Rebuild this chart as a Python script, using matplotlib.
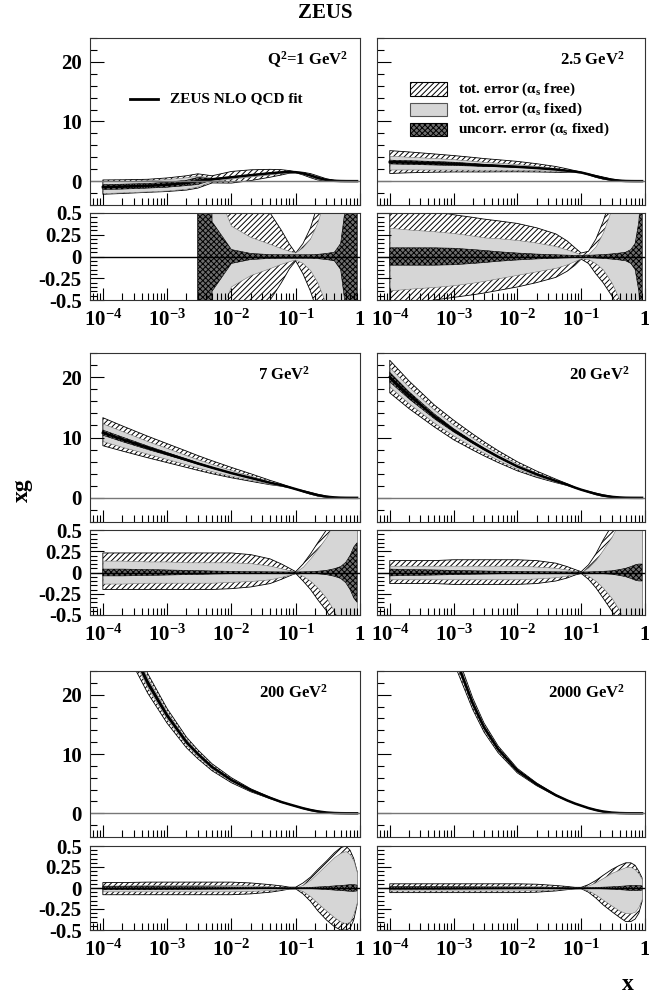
import numpy as np
import matplotlib
matplotlib.use("Agg")
import matplotlib.pyplot as plt
from matplotlib.ticker import FixedLocator, FixedFormatter, MultipleLocator, LogLocator, NullFormatter
from matplotlib.patches import Rectangle
from matplotlib.lines import Line2D

plt.rcParams['font.family'] = 'Liberation Serif'
plt.rcParams['font.weight'] = 'bold'
plt.rcParams['mathtext.fontset'] = 'custom'
plt.rcParams['mathtext.rm'] = 'Liberation Serif:bold'
plt.rcParams['mathtext.it'] = 'Liberation Serif:bold:italic'
plt.rcParams['mathtext.bf'] = 'Liberation Serif:bold'
plt.rcParams['mathtext.default'] = 'rm'
plt.rcParams['hatch.linewidth'] = 0.7

# ---------------- data ----------------
X_NODES = [1e-4, 2e-4, 5e-4, 1e-3, 2e-3, 3e-3, 5e-3, 1e-2, 2e-2, 4e-2, 6e-2, 8e-2,
           0.1, 0.13, 0.17, 0.22, 0.3, 0.4, 0.5, 0.6, 0.7, 0.8, 0.9]

PANEL_LABELS = ["Q$^2$=1 GeV$^2$", "2.5 GeV$^2$", "7 GeV$^2$", "20 GeV$^2$",
                "200 GeV$^2$", "2000 GeV$^2$"]

# Q2 = 1
XG_1 = [-1.0, -0.92, -0.78, -0.6, -0.3, 0.03, 0.3, 0.65, 1.0, 1.32, 1.48, 1.55,
        1.5, 1.3, 0.95, 0.55, 0.2, 0.06, 0.02, 0.006, 0.002, 0.0005, 0.0001]
UNC_1 = [0.4, 0.45, 0.5, 0.7, 1.5, 20, 0.4, 0.08, 0.035, 0.022, 0.02, 0.02,
         0.02, 0.02, 0.02, 0.025, 0.035, 0.05, 0.15, 0.6, 1.5, 3, 5]
UPFIX_1 = [1.0, 1.05, 1.2, 1.6, 3.2, 30, 0.9, 0.35, 0.22, 0.14, 0.09, 0.06,
           0.04, 0.1, 0.2, 0.38, 0.7, 1.2, 2, 3, 4, 5, 6]
UPFREE_1 = [1.2, 1.25, 1.4, 1.9, 4.0, 40, 2.0, 1.5, 0.9, 0.5, 0.3, 0.14,
            0.04, 0.15, 0.33, 0.6, 1.0, 1.5, 2.5, 3.5, 4.5, 5.5, 6.5]
LOFIX_1 = [1.0, 1.05, 1.2, 1.6, 3.2, 30, 0.9, 0.35, 0.22, 0.14, 0.09, 0.06,
           0.04, 0.08, 0.16, 0.3, 0.55, 1.0, 2, 3, 4, 5, 6]
LOFREE_1 = [1.2, 1.25, 1.4, 1.9, 4.0, 40, 2.0, 1.5, 0.9, 0.5, 0.3, 0.14,
            0.05, 0.2, 0.4, 0.65, 1.0, 1.5, 2.5, 3.5, 4.5, 5.5, 6.5]

# Q2 = 2.5
XG_2 = [3.2, 3.12, 3.0, 2.9, 2.75, 2.65, 2.55, 2.4, 2.2, 1.95, 1.75, 1.6,
        1.45, 1.15, 0.8, 0.5, 0.22, 0.08, 0.025, 0.008, 0.002, 0.0005, 0.0001]
UNC_2 = [0.1, 0.1, 0.1, 0.095, 0.08, 0.07, 0.055, 0.04, 0.028, 0.02, 0.016, 0.013,
         0.012, 0.014, 0.018, 0.022, 0.03, 0.04, 0.05, 0.08, 0.15, 0.4, 1.0]
UPFIX_2 = [0.33, 0.31, 0.29, 0.27, 0.24, 0.22, 0.21, 0.19, 0.16, 0.12, 0.08, 0.05,
           0.02, 0.03, 0.12, 0.28, 0.55, 0.9, 1.2, 1.5, 2, 3, 4]
UPFREE_2 = [0.6, 0.57, 0.52, 0.48, 0.45, 0.43, 0.41, 0.38, 0.33, 0.26, 0.18, 0.1,
            0.04, 0.06, 0.2, 0.4, 0.7, 1.0, 1.3, 1.6, 2.1, 3.1, 4.1]
LOFIX_2 = [0.39, 0.37, 0.35, 0.33, 0.3, 0.28, 0.25, 0.21, 0.17, 0.13, 0.09, 0.05,
           0.02, 0.03, 0.08, 0.15, 0.3, 0.5, 0.7, 1.0, 1.5, 2, 3]
LOFREE_2 = [0.6, 0.55, 0.5, 0.47, 0.44, 0.42, 0.39, 0.35, 0.3, 0.24, 0.17, 0.1,
            0.03, 0.08, 0.2, 0.3, 0.45, 0.6, 0.8, 1.1, 1.6, 2.1, 3.1]

# Q2 = 7
XG_3 = [10.8, 9.7, 8.3, 7.3, 6.3, 5.7, 5.0, 4.1, 3.3, 2.5, 2.1, 1.75,
        1.45, 1.1, 0.75, 0.45, 0.2, 0.07, 0.025, 0.008, 0.002, 0.0005, 0.0001]
UNC_3 = [0.04, 0.04, 0.035, 0.03, 0.025, 0.022, 0.018, 0.014, 0.01, 0.008, 0.007, 0.006,
         0.006, 0.008, 0.01, 0.015, 0.025, 0.045, 0.07, 0.12, 0.2, 0.3, 0.35]
UPFIX_3 = [0.14, 0.14, 0.13, 0.13, 0.12, 0.12, 0.12, 0.12, 0.11, 0.08, 0.05, 0.025,
           0.008, 0.07, 0.17, 0.28, 0.42, 0.6, 0.8, 1.0, 1.3, 1.6, 2.0]
UPFREE_3 = [0.23, 0.23, 0.23, 0.23, 0.23, 0.23, 0.23, 0.23, 0.21, 0.16, 0.1, 0.05,
            0.01, 0.1, 0.22, 0.35, 0.5, 0.7, 0.9, 1.1, 1.4, 1.7, 2.1]
LOFIX_3 = [0.13, 0.13, 0.12, 0.12, 0.12, 0.12, 0.12, 0.11, 0.1, 0.08, 0.05, 0.025,
           0.008, 0.04, 0.1, 0.18, 0.3, 0.46, 0.6, 0.8, 1.0, 1.3, 1.6]
LOFREE_3 = [0.2, 0.2, 0.2, 0.2, 0.2, 0.2, 0.2, 0.19, 0.17, 0.13, 0.08, 0.04,
            0.01, 0.1, 0.2, 0.32, 0.45, 0.6, 0.8, 1.0, 1.2, 1.5, 1.8]

# Q2 = 20
XG_4 = [20.0, 17.0, 13.5, 11.2, 9.2, 8.1, 6.8, 5.2, 3.9, 2.8, 2.2, 1.7,
        1.35, 1.0, 0.65, 0.38, 0.17, 0.06, 0.02, 0.007, 0.002, 0.0005, 0.0001]
UNC_4 = [0.04, 0.035, 0.03, 0.025, 0.02, 0.018, 0.015, 0.012, 0.01, 0.008, 0.007, 0.006,
         0.006, 0.007, 0.01, 0.014, 0.02, 0.035, 0.05, 0.07, 0.09, 0.1, 0.1]
UPFIX_4 = [0.08, 0.08, 0.08, 0.08, 0.08, 0.08, 0.08, 0.08, 0.07, 0.055, 0.035, 0.015,
           0.005, 0.06, 0.15, 0.27, 0.42, 0.6, 0.8, 1.0, 1.2, 1.4, 1.6]
UPFREE_4 = [0.14, 0.14, 0.14, 0.15, 0.15, 0.15, 0.15, 0.15, 0.14, 0.11, 0.07, 0.035,
            0.01, 0.09, 0.22, 0.38, 0.55, 0.75, 0.95, 1.1, 1.3, 1.5, 1.7]
LOFIX_4 = [0.08, 0.08, 0.08, 0.08, 0.08, 0.08, 0.08, 0.08, 0.07, 0.055, 0.035, 0.015,
           0.005, 0.04, 0.1, 0.18, 0.3, 0.45, 0.6, 0.75, 0.9, 1.0, 1.1]
LOFREE_4 = [0.13, 0.13, 0.13, 0.14, 0.14, 0.14, 0.14, 0.14, 0.13, 0.1, 0.065, 0.03,
            0.01, 0.08, 0.18, 0.3, 0.45, 0.6, 0.75, 0.9, 1.0, 1.1, 1.2]

# Q2 = 200
XG_5 = [38.0, 31.0, 22.0, 16.5, 12.0, 10.0, 7.8, 5.6, 3.9, 2.6, 1.9, 1.5,
        1.2, 0.85, 0.55, 0.32, 0.13, 0.045, 0.015, 0.005, 0.0015, 0.0004, 0.00006]
UNC_5 = [0.02, 0.02, 0.02, 0.018, 0.016, 0.015, 0.014, 0.012, 0.01, 0.008, 0.006, 0.005,
         0.005, 0.006, 0.008, 0.012, 0.018, 0.025, 0.03, 0.035, 0.04, 0.04, 0.035]
UPFIX_5 = [0.03, 0.03, 0.035, 0.035, 0.035, 0.035, 0.035, 0.035, 0.03, 0.02, 0.012, 0.006,
           0.006, 0.04, 0.1, 0.18, 0.28, 0.37, 0.42, 0.44, 0.4, 0.32, 0.18]
UPFREE_5 = [0.065, 0.065, 0.07, 0.07, 0.07, 0.07, 0.07, 0.07, 0.06, 0.04, 0.025, 0.01,
            0.01, 0.06, 0.13, 0.22, 0.32, 0.42, 0.48, 0.5, 0.45, 0.35, 0.2]
LOFIX_5 = [0.04, 0.04, 0.04, 0.04, 0.04, 0.04, 0.04, 0.04, 0.035, 0.025, 0.015, 0.007,
           0.006, 0.04, 0.1, 0.18, 0.27, 0.35, 0.4, 0.42, 0.4, 0.3, 0.16]
LOFREE_5 = [0.08, 0.08, 0.08, 0.08, 0.08, 0.08, 0.08, 0.08, 0.07, 0.05, 0.03, 0.012,
            0.01, 0.07, 0.16, 0.27, 0.38, 0.46, 0.5, 0.5, 0.48, 0.38, 0.2]

# Q2 = 2000
XG_6 = [70.0, 55.0, 37.0, 27.0, 18.5, 14.5, 10.8, 7.2, 4.9, 3.05, 2.18, 1.64,
        1.29, 0.88, 0.55, 0.3, 0.12, 0.038, 0.011, 0.003, 0.0008, 0.0002, 0.00003]
UNC_6 = [0.015, 0.015, 0.015, 0.014, 0.013, 0.012, 0.011, 0.01, 0.008, 0.006, 0.005, 0.004,
         0.004, 0.005, 0.007, 0.01, 0.014, 0.02, 0.025, 0.03, 0.03, 0.03, 0.025]
UPFIX_6 = [0.025, 0.025, 0.025, 0.025, 0.025, 0.025, 0.025, 0.025, 0.022, 0.015, 0.009, 0.005,
           0.005, 0.03, 0.07, 0.12, 0.18, 0.22, 0.25, 0.25, 0.22, 0.17, 0.1]
UPFREE_6 = [0.05, 0.05, 0.05, 0.05, 0.05, 0.05, 0.05, 0.05, 0.045, 0.03, 0.018, 0.008,
            0.008, 0.04, 0.09, 0.15, 0.22, 0.27, 0.3, 0.3, 0.27, 0.2, 0.12]
LOFIX_6 = [0.03, 0.03, 0.03, 0.03, 0.03, 0.03, 0.03, 0.03, 0.026, 0.018, 0.01, 0.005,
           0.005, 0.03, 0.08, 0.14, 0.21, 0.27, 0.3, 0.3, 0.28, 0.22, 0.12]
LOFREE_6 = [0.055, 0.055, 0.055, 0.055, 0.055, 0.055, 0.055, 0.055, 0.05, 0.035, 0.02, 0.01,
            0.008, 0.05, 0.12, 0.2, 0.28, 0.35, 0.4, 0.4, 0.37, 0.3, 0.16]

PANELS = [
    (XG_1, UNC_1, UPFIX_1, UPFREE_1, LOFIX_1, LOFREE_1),
    (XG_2, UNC_2, UPFIX_2, UPFREE_2, LOFIX_2, LOFREE_2),
    (XG_3, UNC_3, UPFIX_3, UPFREE_3, LOFIX_3, LOFREE_3),
    (XG_4, UNC_4, UPFIX_4, UPFREE_4, LOFIX_4, LOFREE_4),
    (XG_5, UNC_5, UPFIX_5, UPFREE_5, LOFIX_5, LOFREE_5),
    (XG_6, UNC_6, UPFIX_6, UPFREE_6, LOFIX_6, LOFREE_6),
]

X_TICKS = [1e-4, 1e-3, 1e-2, 1e-1, 1]
X_TICKLABELS = ["$10^{-4}$", "$10^{-3}$", "$10^{-2}$", "$10^{-1}$", "1"]
MAIN_YTICKS = [0, 10, 20]
MAIN_YTICKLABELS = ["0", "10", "20"]
RATIO_YTICKS = [-0.5, -0.25, 0, 0.25, 0.5]
RATIO_YTICKLABELS = ["-0.5", "-0.25", "0", "0.25", "0.5"]
LEGEND_LABELS = ["tot. error (\u03b1$_s$ free)", "tot. error (\u03b1$_s$ fixed)",
                 "uncorr. error (\u03b1$_s$ fixed)"]

# ---------------- styling ----------------
GRAY = '#d6d6d6'
CROSS_FACE = '#6e6e6e'
HATCH_FREE = '//////'
HATCH_UNC = 'xxxxxx'
W, H = 649, 998
fig = plt.figure(figsize=(W / 100, H / 100), dpi=100)

def rect(x0, x1, ytop, ybot):
    return [x0 / W, 1 - ybot / H, (x1 - x0) / W, (ybot - ytop) / H]

COLS = [(90, 360), (377, 645)]
ROWS_MAIN = [(38, 205), (353, 522), (671, 837)]
ROWS_RATIO = [(213, 300), (530, 615), (846, 930)]

def style_x(ax, labels):
    ax.set_xscale('log')
    ax.set_xlim(10 ** -4.2, 1)
    ax.xaxis.set_major_locator(FixedLocator(X_TICKS))
    ax.xaxis.set_minor_locator(LogLocator(base=10, subs=np.arange(2, 10), numticks=20))
    ax.xaxis.set_minor_formatter(NullFormatter())
    if labels:
        ax.xaxis.set_major_formatter(FixedFormatter(X_TICKLABELS))
    else:
        ax.xaxis.set_major_formatter(NullFormatter())
    ax.tick_params(axis='x', which='major', direction='in', length=9, width=0.8,
                   labelsize=15, pad=7, top=False)
    ax.tick_params(axis='x', which='minor', direction='in', length=5, width=0.8, top=False)

def style_y(ax, ticks, tlabels, minor, showlabels):
    ax.yaxis.set_major_locator(FixedLocator(ticks))
    ax.yaxis.set_minor_locator(MultipleLocator(minor))
    if showlabels:
        ax.yaxis.set_major_formatter(FixedFormatter(tlabels))
    else:
        ax.yaxis.set_major_formatter(NullFormatter())
    ax.tick_params(axis='y', which='major', direction='in', length=10, width=0.8,
                   labelsize=15, pad=6, right=False)
    ax.tick_params(axis='y', which='minor', direction='in', length=5, width=0.8, right=False)

def spines(ax):
    for s in ax.spines.values():
        s.set_linewidth(0.8)
        s.set_color('#333333')

x = np.array(X_NODES)
for i, (xg, unc, upfix, upfree, lofix, lofree) in enumerate(PANELS):
    r, c = divmod(i, 2)
    xg = np.array(xg); a = np.abs(xg)
    unc = np.array(unc); upfix = np.array(upfix); upfree = np.array(upfree)
    lofix = np.array(lofix); lofree = np.array(lofree)

    axm = fig.add_axes(rect(*COLS[c], *ROWS_MAIN[r]))
    axm.fill_between(x, xg - a * lofree, xg + a * upfree, facecolor='white',
                     edgecolor='black', hatch=HATCH_FREE, lw=0.6)
    axm.fill_between(x, xg - a * lofix, xg + a * upfix, facecolor=GRAY,
                     edgecolor='#777777', lw=0.4)
    axm.fill_between(x, xg - a * unc, xg + a * unc, facecolor=CROSS_FACE,
                     edgecolor='black', hatch=HATCH_UNC, lw=0.4)
    axm.plot(x, xg, color='black', lw=1.8)
    axm.axhline(0, color='#777777', lw=1.0)
    axm.set_ylim(-4, 24)
    style_x(axm, False)
    style_y(axm, MAIN_YTICKS, MAIN_YTICKLABELS, 2, c == 0)
    spines(axm)

    axr = fig.add_axes(rect(*COLS[c], *ROWS_RATIO[r]))
    m = xg > 0
    axr.fill_between(x, -lofree, upfree, where=m, facecolor='white',
                     edgecolor='black', hatch=HATCH_FREE, lw=0.6)
    axr.fill_between(x, -lofix, upfix, where=m, facecolor=GRAY,
                     edgecolor='#777777', lw=0.4)
    axr.fill_between(x, -unc, unc, where=m, facecolor=CROSS_FACE,
                     edgecolor='black', hatch=HATCH_UNC, lw=0.4)
    axr.axhline(0, color='black', lw=1.0)
    axr.set_ylim(-0.5, 0.5)
    style_x(axr, True)
    style_y(axr, RATIO_YTICKS, RATIO_YTICKLABELS, 0.05, c == 0)
    spines(axr)

    # panel label
    lab_pos = [(0.955, 0.87), (0.925, 0.87), (0.815, 0.87), (0.944, 0.87),
               (0.88, 0.87), (0.925, 0.87)][i]
    axm.text(lab_pos[0], lab_pos[1], PANEL_LABELS[i], transform=axm.transAxes,
             ha='right', va='center', fontsize=12, fontweight='bold')

    if i == 0:
        axm.add_line(Line2D([0.148, 0.252], [0.635, 0.635], transform=axm.transAxes,
                            color='black', lw=2))
        axm.text(0.296, 0.635, "ZEUS NLO QCD fit", transform=axm.transAxes,
                 ha='left', va='center', fontsize=11, fontweight='bold')
    if i == 1:
        specs = [dict(facecolor='white', edgecolor='black', hatch=HATCH_FREE),
                 dict(facecolor=GRAY, edgecolor='#555555'),
                 dict(facecolor=CROSS_FACE, edgecolor='black', hatch=HATCH_UNC)]
        ys = [0.695, 0.572, 0.452]
        for sp, yy, lab in zip(specs, ys, LEGEND_LABELS):
            axm.add_patch(Rectangle((0.123, yy - 0.04), 0.138, 0.08,
                                    transform=axm.transAxes, lw=0.8, **sp))
            axm.text(0.302, yy, lab, transform=axm.transAxes, ha='left',
                     va='center', fontsize=11, fontweight='bold')

fig.text(325 / W, 1 - 13 / H, "ZEUS", ha='center', va='center', fontsize=15,
         fontweight='bold')
fig.text(22 / W, 1 - 490 / H, "xg", ha='center', va='center', fontsize=17,
         fontweight='bold', rotation=90)
fig.text(628 / W, 1 - 984 / H, "x", ha='center', va='center', fontsize=17,
         fontweight='bold')

fig.savefig("out.png", dpi=100)
